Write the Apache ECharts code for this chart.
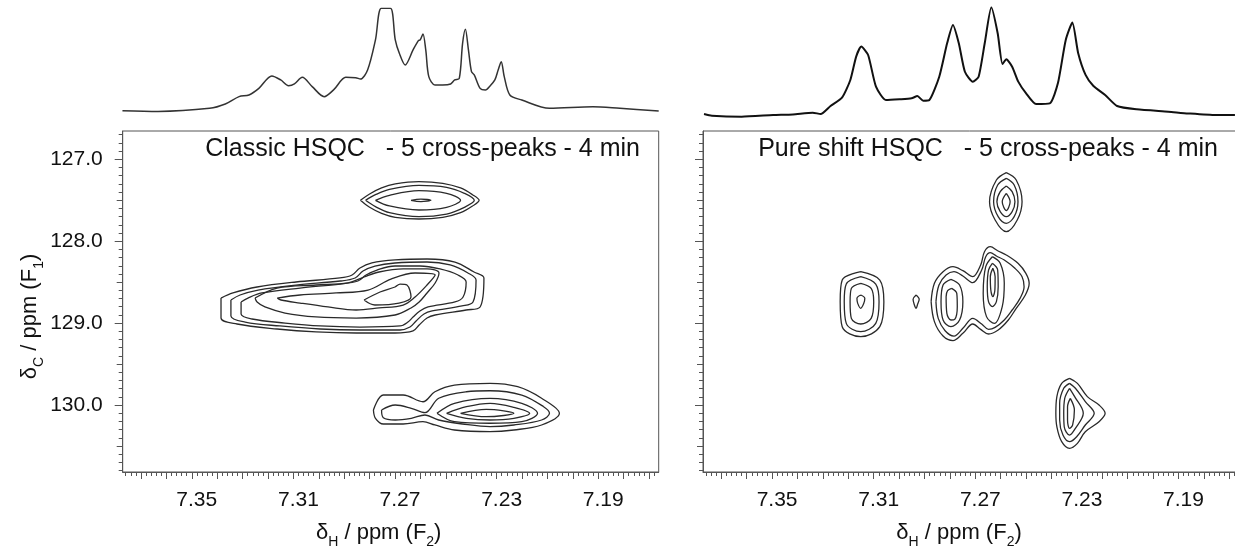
<!DOCTYPE html>
<html>
<head>
<meta charset="utf-8">
<script src="https://cdn.jsdelivr.net/npm/echarts@6/dist/echarts.min.js"></script>
<style>
  html, body { margin: 0; padding: 0; background: #fff; }
  #chart { width: 1235px; height: 556px; }
</style>
</head>
<body>
<div id="chart"></div>
<script>
// 1D projections on top: [deltaH ppm, relative intensity]
var classicH1 = [
  [7.3773, 0], [7.3633, -0.7], [7.3430, 2.3], [7.3368, 6.5], [7.3314, 13.7], [7.3275, 15.3],
  [7.3236, 21.8], [7.3185, 33.9], [7.3150, 30.0], [7.3119, 24.4], [7.3096, 26.1], [7.3065, 32.6],
  [7.3026, 23.5], [7.2979, 13.7], [7.2940, 20.8], [7.2894, 32.6], [7.2855, 32.2], [7.2836, 30.9],
  [7.2808, 39.7], [7.2777, 69.1], [7.2754, 100], [7.2718, 100], [7.2699, 69.1], [7.2683, 56.0],
  [7.2660, 44.6], [7.2629, 59.3], [7.2608, 68.4], [7.2601, 69.1], [7.2590, 74.9], [7.2579, 59.3],
  [7.2567, 33.2], [7.2543, 25.1], [7.2512, 25.1], [7.2481, 26.1], [7.2465, 30.0], [7.2447, 31.6],
  [7.2434, 65.8], [7.2423, 79.5], [7.2411, 59.3], [7.2399, 38.1], [7.2388, 34.9], [7.2365, 21.8],
  [7.2344, 20.2], [7.2326, 24.1], [7.2307, 30.0], [7.2294, 39.7], [7.2282, 47.9], [7.2270, 33.2],
  [7.2248, 15.3], [7.2201, 10.4], [7.2092, 2.3], [7.1921, 3.9], [7.1815, 2.3], [7.1662, -0.3]
];
var pureShiftH1 = [
  [7.3768, 0.9], [7.3737, -0.6], [7.3620, -1.5], [7.3496, 0], [7.3418, 0.6], [7.3340, 2.2],
  [7.3309, 0.9], [7.3270, 8.4], [7.3224, 16.4], [7.3192, 32.5], [7.3169, 54.2], [7.3149, 63.5],
  [7.3122, 55.7], [7.3091, 26.3], [7.3052, 13.9], [7.2998, 14.6], [7.2951, 15.5], [7.2928, 17.6],
  [7.2905, 13.3], [7.2881, 13.9], [7.2842, 35.6], [7.2811, 66.6], [7.2788, 83.6], [7.2765, 66.6],
  [7.2741, 40.2], [7.2710, 31.0], [7.2687, 35.6], [7.2663, 66.6], [7.2637, 100], [7.2612, 75.9],
  [7.2593, 47.4], [7.2578, 51.7], [7.2555, 44.9], [7.2531, 31.0], [7.2500, 20.1], [7.2461, 10.2],
  [7.2407, 10.8], [7.2375, 29.4], [7.2344, 69.7], [7.2318, 85.8], [7.2295, 57.3], [7.2266, 37.2],
  [7.2235, 26.9], [7.2189, 18.6], [7.2142, 8.4], [7.2065, 5.3], [7.1940, 3.1], [7.1862, 1.5],
  [7.1753, 0], [7.1678, 0]
];

// contour levels, outer to inner: [deltaH, deltaC]
var classicPeakA = [
  [[7.2836,127.501],[7.2800,127.424],[7.2753,127.350],[7.2699,127.301],[7.2606,127.273],[7.2512,127.293],
   [7.2442,127.350],[7.2395,127.432],[7.2369,127.501],[7.2395,127.570],[7.2442,127.651],[7.2512,127.708],
   [7.2606,127.729],[7.2699,127.708],[7.2753,127.660],[7.2800,127.586]],
  [[7.2816,127.501],[7.2777,127.432],[7.2722,127.367],[7.2606,127.318],[7.2497,127.342],[7.2427,127.415],
   [7.2388,127.501],[7.2427,127.586],[7.2497,127.668],[7.2606,127.700],[7.2722,127.651],[7.2777,127.578]],
  [[7.2777,127.501],[7.2722,127.440],[7.2606,127.383],[7.2497,127.415],[7.2442,127.501],[7.2497,127.586],
   [7.2606,127.619],[7.2722,127.570]],
  [[7.2637,127.501],[7.2598,127.485],[7.2559,127.501],[7.2598,127.517]]
];
var classicPeakB = [
  [[7.3385,128.694],[7.3385,128.938],[7.3322,129.011],[7.3164,129.072],[7.3011,129.108],[7.2853,129.121],
   [7.2700,129.121],[7.2629,129.096],[7.2605,129.023],[7.2574,128.938],[7.2542,128.901],[7.2420,128.840],
   [7.2365,128.803],[7.2350,128.449],[7.2389,128.376],[7.2464,128.254],[7.2574,128.217],[7.2700,128.229],
   [7.2791,128.266],[7.2838,128.327],[7.2869,128.413],[7.2917,128.449],[7.3090,128.498],[7.3243,128.559],
   [7.3338,128.632]],
  [[7.3346,128.718],[7.3346,128.913],[7.3290,128.987],[7.3153,129.035],[7.2995,129.072],[7.2838,129.084],
   [7.2680,129.084],[7.2641,129.048],[7.2617,128.974],[7.2586,128.889],[7.2554,128.852],[7.2436,128.791],
   [7.2393,128.742],[7.2381,128.474],[7.2413,128.388],[7.2483,128.290],[7.2574,128.254],[7.2700,128.266],
   [7.2779,128.303],[7.2826,128.364],[7.2857,128.449],[7.2916,128.486],[7.3090,128.535],[7.3239,128.596],
   [7.3310,128.657]],
  [[7.3306,128.742],[7.3306,128.889],[7.3263,128.950],[7.3133,128.999],[7.2995,129.035],[7.2838,129.048],
   [7.2680,129.035],[7.2649,128.987],[7.2629,128.925],[7.2602,128.852],[7.2570,128.803],[7.2464,128.742],
   [7.2432,128.681],[7.2420,128.498],[7.2452,128.413],[7.2523,128.339],[7.2602,128.303],[7.2700,128.303],
   [7.2771,128.352],[7.2814,128.413],[7.2846,128.486],[7.2916,128.523],[7.3074,128.572],[7.3224,128.632],
   [7.3279,128.694]],
  [[7.3251,128.694],[7.3164,128.572],[7.3011,128.535],[7.2885,128.510],[7.2822,128.437],[7.2763,128.376],
   [7.2668,128.339],[7.2574,128.339],[7.2527,128.388],[7.2542,128.510],[7.2574,128.632],[7.2605,128.742],
   [7.2637,128.815],[7.2700,128.901],[7.2853,128.938],[7.3011,128.925],[7.3133,128.877],[7.3212,128.803],
   [7.3243,128.742]],
  [[7.3164,128.694],[7.3074,128.657],[7.2932,128.632],[7.2806,128.596],[7.2716,128.462],[7.2621,128.388],
   [7.2542,128.413],[7.2574,128.535],[7.2621,128.681],[7.2668,128.779],[7.2763,128.815],[7.2853,128.840],
   [7.2964,128.803],[7.3074,128.755],[7.3149,128.718]],
  [[7.2822,128.718],[7.2759,128.620],[7.2700,128.559],[7.2680,128.523],[7.2653,128.535],[7.2637,128.681],
   [7.2684,128.755],[7.2779,128.779]]
];
var classicPeakC = [
  [[7.2785,130.061],[7.2746,129.878],[7.2668,129.878],[7.2590,129.960],[7.2543,129.838],[7.2466,129.756],
   [7.2326,129.735],[7.2217,129.777],[7.2123,129.918],[7.2053,130.101],[7.2123,130.244],[7.2232,130.305],
   [7.2326,130.326],[7.2466,130.305],[7.2543,130.244],[7.2590,130.204],[7.2668,130.232],[7.2746,130.232],
   [7.2777,130.162]],
  [[7.2753,130.061],[7.2699,130.000],[7.2636,130.040],[7.2582,130.094],[7.2528,129.918],[7.2419,129.838],
   [7.2326,129.826],[7.2201,129.878],[7.2115,130.021],[7.2092,130.101],[7.2123,130.183],[7.2232,130.244],
   [7.2326,130.265],[7.2434,130.232],[7.2528,130.183],[7.2582,130.122],[7.2636,130.162],[7.2699,130.183],
   [7.2746,130.155]],
  [[7.2535,130.101],[7.2466,129.979],[7.2326,129.918],[7.2201,129.979],[7.2139,130.101],[7.2201,130.204],
   [7.2326,130.223],[7.2466,130.204]],
  [[7.2497,130.101],[7.2419,130.021],[7.2326,129.979],[7.2232,130.028],[7.2170,130.101],[7.2232,130.162],
   [7.2326,130.183],[7.2419,130.162]],
  [[7.2442,130.101],[7.2341,130.053],[7.2232,130.101],[7.2341,130.143]]
];

var pureShiftPeak1 = [
  [[7.3151,128.372],[7.3076,128.474],[7.3060,128.738],[7.3076,129.044],[7.3151,129.166],[7.3224,129.044],
   [7.3232,128.738],[7.3224,128.474]],
  [[7.3151,128.433],[7.3092,128.523],[7.3079,128.738],[7.3092,129.003],[7.3151,129.105],[7.3208,129.003],
   [7.3216,128.738],[7.3208,128.523]],
  [[7.3151,128.514],[7.3110,128.576],[7.3100,128.738],[7.3110,128.942],[7.3151,129.011],[7.3188,128.942],
   [7.3193,128.738],[7.3188,128.576]],
  [[7.3151,128.657],[7.3135,128.698],[7.3139,128.759],[7.3151,128.820],[7.3163,128.759],[7.3166,128.698]]
];
var pureShiftSmall = [
  [[7.2933,128.657],[7.2921,128.710],[7.2927,128.767],[7.2933,128.820],[7.2941,128.767],[7.2945,128.710]]
];
var pureShiftPair = [
  [[7.2874,128.738],[7.2861,128.514],[7.2827,128.372],[7.2788,128.311],[7.2749,128.360],[7.2710,128.433],
   [7.2679,128.291],[7.2664,128.128],[7.2641,128.067],[7.2612,128.116],[7.2578,128.168],[7.2532,128.270],
   [7.2501,128.392],[7.2488,128.514],[7.2503,128.657],[7.2539,128.820],[7.2570,128.962],[7.2610,129.084],
   [7.2648,129.133],[7.2679,129.076],[7.2710,129.011],[7.2749,129.125],[7.2788,129.214],[7.2827,129.158],
   [7.2861,128.982]],
  [[7.2855,128.738],[7.2843,128.535],[7.2815,128.413],[7.2784,128.372],[7.2749,128.425],[7.2710,128.506],
   [7.2675,128.352],[7.2659,128.189],[7.2641,128.140],[7.2617,128.181],[7.2586,128.230],[7.2544,128.331],
   [7.2516,128.433],[7.2508,128.555],[7.2524,128.698],[7.2555,128.840],[7.2586,128.962],[7.2622,129.052],
   [7.2648,129.076],[7.2675,129.011],[7.2710,128.942],[7.2749,129.064],[7.2784,129.158],[7.2819,129.093],
   [7.2846,128.942]],
  [[7.2796,128.466],[7.2762,128.535],[7.2749,128.738],[7.2762,128.962],[7.2796,129.044],[7.2827,128.962],
   [7.2835,128.738],[7.2827,128.535]],
  [[7.2793,128.576],[7.2773,128.637],[7.2771,128.799],[7.2781,128.954],[7.2796,128.962],[7.2812,128.881],
   [7.2815,128.677],[7.2809,128.604]],
  [[7.2633,128.189],[7.2602,128.270],[7.2586,128.514],[7.2594,128.799],[7.2625,129.003],[7.2656,128.921],
   [7.2669,128.637],[7.2659,128.311]],
  [[7.2633,128.270],[7.2612,128.352],[7.2610,128.555],[7.2617,128.738],[7.2633,128.799],[7.2648,128.738],
   [7.2653,128.555],[7.2648,128.352]],
  [[7.2631,128.331],[7.2622,128.433],[7.2623,128.596],[7.2631,128.677],[7.2639,128.596],[7.2641,128.433]]
];
var pureShiftPeak3 = [
  [[7.2578,127.163],[7.2539,127.253],[7.2516,127.517],[7.2535,127.741],[7.2578,127.884],[7.2622,127.741],
   [7.2644,127.517],[7.2617,127.253]],
  [[7.2578,127.232],[7.2547,127.314],[7.2532,127.517],[7.2547,127.700],[7.2578,127.782],[7.2610,127.700],
   [7.2628,127.517],[7.2612,127.314]],
  [[7.2578,127.326],[7.2555,127.395],[7.2544,127.517],[7.2555,127.639],[7.2578,127.700],[7.2602,127.639],
   [7.2615,127.517],[7.2602,127.395]],
  [[7.2578,127.416],[7.2563,127.517],[7.2578,127.627],[7.2594,127.517]]
];
var pureShiftPeak4 = [
  [[7.2329,129.675],[7.2298,129.736],[7.2259,129.898],[7.2213,130.000],[7.2189,130.102],[7.2213,130.204],
   [7.2267,130.326],[7.2298,130.468],[7.2329,130.529],[7.2360,130.448],[7.2379,130.265],[7.2383,130.102],
   [7.2379,129.898],[7.2360,129.736]],
  [[7.2329,129.736],[7.2306,129.796],[7.2267,129.959],[7.2232,130.102],[7.2267,130.244],[7.2301,130.387],
   [7.2329,130.448],[7.2355,130.367],[7.2368,130.183],[7.2368,129.980],[7.2352,129.796]],
  [[7.2329,129.796],[7.2309,129.898],[7.2275,130.102],[7.2306,130.285],[7.2329,130.367],[7.2350,130.265],
   [7.2352,130.102],[7.2348,129.919]],
  [[7.2326,129.919],[7.2310,130.061],[7.2317,130.244],[7.2329,130.285],[7.2337,130.183],[7.2337,130.021]]
];

var xLabels = [7.35, 7.31, 7.27, 7.23, 7.19];
var yLabels = [127, 128, 129, 130];
var yHalfTicks = [127.5, 128.5, 129.5, 130.5];
var panelTitles = ['Classic HSQC   - 5 cross-peaks - 4 min', 'Pure shift HSQC   - 5 cross-peaks - 4 min'];

var FONT = 'Liberation Sans, Arial, sans-serif';
var xMin = 7.1662, xMax = 7.3772;
var yMin = 126.6544, yMax = 130.818;

function steps(from, to, step) {
  var out = [];
  for (var k = Math.round(from / step); k <= Math.round(to / step); k++) {
    out.push(+(k * step).toFixed(4));
  }
  return out;
}
var xMajorTicks = steps(7.17, 7.37, 0.01);
var xMinorTicks = steps(7.168, 7.376, 0.002);
var yMinorTicks = steps(126.7, 130.8, 0.1);

var axisColor = '#555';
var nameStyle = {
  fontSize: 22, color: '#111', fontFamily: FONT, lineHeight: 26,
  rich: { s: { fontSize: 14, fontFamily: FONT, color: '#111', lineHeight: 32, verticalAlign: 'bottom' } }
};

function hiddenAxis(gi, extra) {
  return Object.assign({
    gridIndex: gi, type: 'value', axisLine: { show: false }, axisTick: { show: false },
    axisLabel: { show: false }, splitLine: { show: false }
  }, extra);
}

var grids = [
  { left: 122.7, top: 8.3, width: 536, height: 112.6, outerBoundsMode: 'none' },
  { left: 703, top: 7.3, width: 536, height: 118.5, outerBoundsMode: 'none' },
  { left: 122.7, top: 131, width: 536, height: 341, show: true, borderColor: axisColor, borderWidth: 1, outerBoundsMode: 'none' },
  { left: 703, top: 131, width: 536, height: 341, show: true, borderColor: axisColor, borderWidth: 1, outerBoundsMode: 'none' }
];

var xAxes = [
  hiddenAxis(0, { inverse: true, min: xMin, max: xMax }),
  hiddenAxis(1, { inverse: true, min: xMin, max: xMax })
];
var yAxes = [
  hiddenAxis(0, { min: -10, max: 100 }),
  hiddenAxis(1, { min: -10, max: 100 })
];

[2, 3].forEach(function (gi) {
  xAxes.push({
    gridIndex: gi, type: 'value', inverse: true, min: xMin, max: xMax, position: 'bottom',
    axisLine: { show: true, lineStyle: { color: axisColor } },
    axisTick: { show: true, customValues: xMajorTicks, length: 7, lineStyle: { color: axisColor } },
    axisLabel: {
      customValues: xLabels, margin: 18, fontSize: 21, color: '#111', fontFamily: FONT,
      padding: [0, 0, 0, 10],
      formatter: function (v) { return v.toFixed(2); }
    },
    splitLine: { show: false },
    name: 'δ{s|H} / ppm (F{s|2})', nameLocation: 'middle', nameGap: 45,
    nameTextStyle: Object.assign({}, nameStyle, { padding: [0, 24, 0, 0] })
  });
  xAxes.push({
    gridIndex: gi, type: 'value', inverse: true, min: xMin, max: xMax, position: 'bottom',
    axisLine: { show: false },
    axisTick: { show: true, customValues: xMinorTicks, length: 4, lineStyle: { color: axisColor } },
    axisLabel: { show: false }, splitLine: { show: false }
  });
  var main = {
    gridIndex: gi, type: 'value', inverse: true, min: yMin, max: yMax, position: 'left',
    axisLine: { show: true, lineStyle: { color: axisColor } },
    axisTick: { show: true, customValues: yLabels, length: 8, lineStyle: { color: axisColor } },
    axisLabel: {
      show: gi === 2, customValues: yLabels, margin: 20, fontSize: 21, color: '#111', fontFamily: FONT,
      formatter: function (v) { return v.toFixed(1); }
    },
    splitLine: { show: false }
  };
  if (gi === 2) {
    main.name = 'δ{s|C} / ppm (F{s|1})';
    main.nameLocation = 'middle';
    main.nameGap = 76;
    main.nameTextStyle = Object.assign({}, nameStyle, { padding: [0, 30, 0, 0] });
  }
  yAxes.push(main);
  yAxes.push({
    gridIndex: gi, type: 'value', inverse: true, min: yMin, max: yMax, position: 'left',
    axisLine: { show: false },
    axisTick: { show: true, customValues: yHalfTicks, length: 6, lineStyle: { color: axisColor } },
    axisLabel: { show: false }, splitLine: { show: false }
  });
  yAxes.push({
    gridIndex: gi, type: 'value', inverse: true, min: yMin, max: yMax, position: 'left',
    axisLine: { show: false },
    axisTick: { show: true, customValues: yMinorTicks, length: 4, lineStyle: { color: axisColor } },
    axisLabel: { show: false }, splitLine: { show: false }
  });
});

function closeLoop(pts) {
  return pts.concat([pts[0]]);
}

function contourSeries(levels, xi, yi) {
  return levels.map(function (pts) {
    return {
      type: 'line', xAxisIndex: xi, yAxisIndex: yi, data: closeLoop(pts),
      symbol: 'none', smooth: 0.35, silent: true,
      lineStyle: { color: '#2a2a2a', width: 1.3 }
    };
  });
}

var series = [
  {
    type: 'line', xAxisIndex: 0, yAxisIndex: 0, data: classicH1, symbol: 'none', smooth: 0.3,
    lineStyle: { color: '#333', width: 1.5 }, silent: true
  },
  {
    type: 'line', xAxisIndex: 1, yAxisIndex: 1, data: pureShiftH1, symbol: 'none', smooth: 0.2,
    lineStyle: { color: '#111', width: 2 }, silent: true
  }
];
// classic panel uses xAxis 2, yAxis 2; pure shift panel xAxis 4, yAxis 5
series = series
  .concat(contourSeries(classicPeakA, 2, 2))
  .concat(contourSeries(classicPeakB, 2, 2))
  .concat(contourSeries(classicPeakC, 2, 2))
  .concat(contourSeries(pureShiftPeak1, 4, 5))
  .concat(contourSeries(pureShiftSmall, 4, 5))
  .concat(contourSeries(pureShiftPair, 4, 5))
  .concat(contourSeries(pureShiftPeak3, 4, 5))
  .concat(contourSeries(pureShiftPeak4, 4, 5));

var titleStyle = { fontSize: 25, fontWeight: 'normal', color: '#111', fontFamily: FONT };

var myChart = echarts.init(document.getElementById('chart'));
var option = {
  animation: false,
  backgroundColor: '#fff',
  title: [
    { text: panelTitles[0], right: 590, top: 132, textStyle: titleStyle },
    { text: panelTitles[1], right: 12, top: 132, textStyle: titleStyle }
  ],
  grid: grids,
  xAxis: xAxes,
  yAxis: yAxes,
  series: series
};
option && myChart.setOption(option);
</script>
</body>
</html>
